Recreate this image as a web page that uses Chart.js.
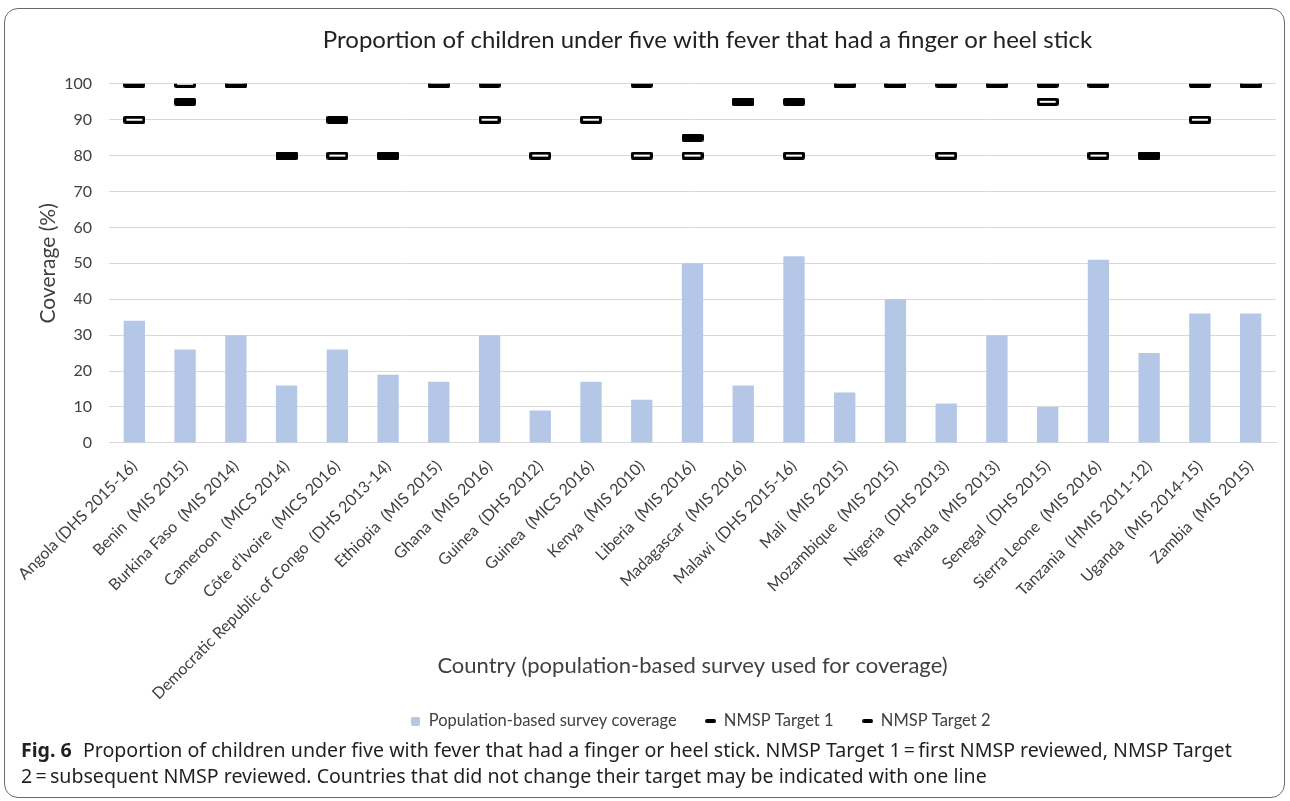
<!DOCTYPE html>
<html>
<head>
<meta charset="utf-8">
<title>Finger or heel stick coverage</title>
<script src="https://cdn.jsdelivr.net/npm/chart.js@4.4.0/dist/chart.umd.min.js"></script>
<style>
  html, body { margin: 0; padding: 0; background: #fff; overflow: hidden; }
  body { width: 1290px; height: 801px; position: relative; }
  .frame {
    position: absolute; left: 4px; top: 8px; width: 1281px; height: 790px;
    border: 1.5px solid #6a6a6a; border-radius: 14px; box-sizing: border-box;
  }
  #chart { position: absolute; left: 0; top: 0; }
  .caption {
    position: absolute; left: 21px; top: 737px;
    font-family: "Noto Sans", "Open Sans", sans-serif; font-size: 19.6px;
    line-height: 26px; color: #231f20; white-space: nowrap;
  }
  .caption b { font-weight: 700; margin-right: 6px; }
</style>
</head>
<body>
<div class="frame"></div>
<canvas id="chart" width="1290" height="771"></canvas>
<div class="caption">
  <b>Fig. 6</b> Proportion of children under five with fever that had a finger or heel stick. NMSP Target 1&#8201;=&#8201;first NMSP reviewed, NMSP Target<br>
  2&#8201;=&#8201;subsequent NMSP reviewed. Countries that did not change their target may be indicated with one line
</div>

<script>
/* chart data */
const categories = [
  'Angola (DHS 2015-16)', 'Benin  (MIS 2015)', 'Burkina Faso  (MIS 2014)', 'Cameroon  (MICS 2014)',
  'Côte d’Ivoire  (MICS 2016)', 'Democratic Republic of Congo  (DHS 2013-14)', 'Ethiopia  (MIS 2015)',
  'Ghana  (MIS 2016)', 'Guinea  (DHS 2012)', 'Guinea  (MICS 2016)', 'Kenya  (MIS 2010)',
  'Liberia  (MIS 2016)', 'Madagascar  (MIS 2016)', 'Malawi  (DHS 2015-16)', 'Mali  (MIS 2015)',
  'Mozambique  (MIS 2015)', 'Nigeria  (DHS 2013)', 'Rwanda  (MIS 2013)', 'Senegal  (DHS 2015)',
  'Sierra Leone  (MIS 2016)', 'Tanzania  (HMIS 2011-12)', 'Uganda  (MIS 2014-15)', 'Zambia  (MIS 2015)'
];
const coverage = [34, 26, 30, 16, 26, 19, 17, 30, 9, 17, 12, 50, 16, 52, 14, 40, 11, 30, 10, 51, 25, 36, 36];
const target1  = [90, 100, 100, 80, 80, 80, 100, 90, 80, 90, 80, 80, 95, 80, 100, 100, 80, 100, 95, 80, 80, 90, 100];
const target2  = [100, 95, 100, 80, 90, 80, 100, 100, null, null, 100, 85, 95, 95, 100, 100, 100, 100, 100, 100, 80, 100, 100];
const yMin = 0, yMax = 100, yStep = 10;

const chartFont = 'Lato, "Open Sans", sans-serif';
const textColor = '#404040';
const barColor = '#b4c7e7';

// little bar-shaped markers for the NMSP targets
function makeMarker(w, h, fill, hollow) {
  const c = document.createElement('canvas');
  c.width = w; c.height = h;
  const g = c.getContext('2d');
  g.fillStyle = fill;
  g.beginPath();
  if (g.roundRect) { g.roundRect(0, 0, w, h, 2); } else { g.rect(0, 0, w, h); }
  g.fill();
  if (hollow) {
    g.fillStyle = '#fff';
    g.fillRect(3, 3, w - 6, h - 6);
  }
  return c;
}
const solidMark  = makeMarker(22, 8, '#000', false);
const hollowMark = makeMarker(22, 8, '#000', true);
const legendSquare = makeMarker(9, 9, barColor, false);
const legendDash   = makeMarker(11, 4, '#000', false);

// x axis title sits inside the rotated label area, like the original
const xTitlePlugin = {
  id: 'xTitle',
  afterDraw(chart) {
    const { ctx, chartArea } = chart;
    ctx.save();
    ctx.font = '22px ' + chartFont;
    ctx.fillStyle = textColor;
    ctx.textAlign = 'center';
    ctx.textBaseline = 'middle';
    ctx.fillText('Country (population-based survey used for coverage)',
      (chartArea.left + chartArea.right) / 2, chartArea.bottom + 223);
    ctx.restore();
  }
};

// the original centres title and legend on the plot, not on the whole canvas,
// and tucks the legend up close under the axis labels
function moveBox(box, cx, top) {
  if (!box) return;
  const dx = cx - (box.left + box.right) / 2;
  box.left += dx;
  box.right += dx;
  if (top !== undefined) {
    const dy = top - box.top;
    box.top += dy;
    box.bottom += dy;
  }
}
const centrePlugin = {
  id: 'centreBlocks',
  afterLayout(chart) {
    const area = chart.chartArea;
    const mid = (area.left + area.right) / 2;
    moveBox(chart.titleBlock, mid + 15);
    moveBox(chart.legend, mid + 8, area.bottom + 241);
  }
};

new Chart(document.getElementById('chart'), {
  data: {
    labels: categories,
    datasets: [
      {
        type: 'bar',
        label: 'Population-based survey coverage',
        data: coverage,
        backgroundColor: barColor,
        barPercentage: 0.42,
        categoryPercentage: 1,
        order: 2
      },
      {
        type: 'line',
        label: 'NMSP Target 1',
        data: target1,
        showLine: false,
        pointStyle: hollowMark,
        pointRadius: 6,
        order: 1
      },
      {
        type: 'line',
        label: 'NMSP Target 2',
        data: target2,
        showLine: false,
        pointStyle: solidMark,
        pointRadius: 6,
        order: 0
      }
    ]
  },
  options: {
    responsive: false,
    animation: false,
    layout: { padding: { left: 12, right: 14, top: 0, bottom: 6 } },
    plugins: {
      tooltip: { enabled: false },
      title: {
        display: true,
        text: 'Proportion of children under five with fever that had a finger or heel stick',
        color: '#222',
        font: { family: chartFont, size: 24, weight: 'normal' },
        padding: { top: 26, bottom: 29 }
      },
      legend: {
        position: 'bottom',
        labels: {
          usePointStyle: true,
          pointStyleWidth: 10,
          color: textColor,
          font: { family: chartFont, size: 16.5 },
          padding: 29,
          sort: (a, b) => a.datasetIndex - b.datasetIndex,
          generateLabels(chart) {
            const items = Chart.defaults.plugins.legend.labels.generateLabels(chart);
            items.forEach(it => { it.pointStyle = it.datasetIndex === 0 ? legendSquare : legendDash; });
            return items;
          }
        }
      }
    },
    scales: {
      x: {
        grid: { display: false },
        border: { display: true, color: '#d9d9d9' },
        // let the first slanted label run out to the left edge, as in the original
        afterFit(scale) { scale.paddingLeft = 0; },
        ticks: {
          autoSkip: false,
          maxRotation: 45,
          minRotation: 45,
          padding: 6,
          color: textColor,
          font: { family: chartFont, size: 16 }
        }
      },
      y: {
        min: yMin,
        max: yMax,
        grid: { color: '#d9d9d9', drawTicks: false },
        border: { display: false },
        // fixed axis width so the plot starts where the original does
        afterFit(scale) { scale.width = 97; },
        ticks: {
          stepSize: yStep,
          padding: 17,
          color: textColor,
          font: { family: chartFont, size: 16 }
        },
        title: {
          display: true,
          text: 'Coverage (%)',
          color: textColor,
          font: { family: chartFont, size: 21 },
          padding: { top: 24, bottom: 5 }
        }
      }
    }
  },
  plugins: [xTitlePlugin, centrePlugin]
});
</script>
</body>
</html>
